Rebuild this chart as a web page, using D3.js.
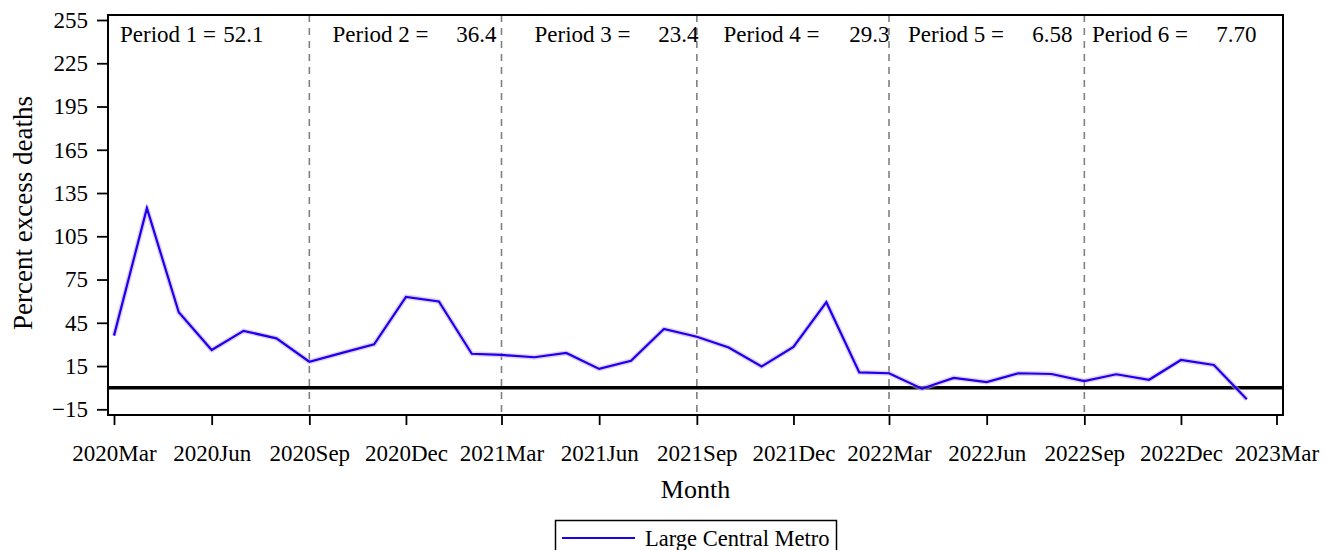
<!DOCTYPE html>
<html>
<head>
<meta charset="utf-8">
<script src="https://cdn.jsdelivr.net/npm/d3@7"></script>
<style>
  html, body { margin: 0; padding: 0; background: #fff; }
  svg { display: block; }
  svg text { font-family: "Liberation Serif", "Times New Roman", serif; fill: #000; }
</style>
</head>
<body>
<svg id="chart" width="1326" height="550"></svg>
<script>
// Monthly percent excess deaths, Large Central Metro counties
const months = [
  "2020-03","2020-04","2020-05","2020-06","2020-07","2020-08",
  "2020-09","2020-10","2020-11","2020-12","2021-01","2021-02",
  "2021-03","2021-04","2021-05","2021-06","2021-07","2021-08",
  "2021-09","2021-10","2021-11","2021-12","2022-01","2022-02",
  "2022-03","2022-04","2022-05","2022-06","2022-07","2022-08",
  "2022-09","2022-10","2022-11","2022-12","2023-01","2023-02"
];
const excess = [
  36.1, 124.5, 52.3, 26.1, 39.4, 34.2,
  18.0, 24.0, 30.1, 63.0, 59.8, 23.5,
  22.7, 21.1, 24.1, 13.0, 18.7, 40.7,
  35.3, 27.9, 14.7, 28.3, 59.3, 10.6,
  10.0, -0.7, 6.8, 3.9, 10.0, 9.5,
  4.6, 9.3, 5.5, 19.2, 15.7, -8.1
];
const seriesName = "Large Central Metro";

// Six-month periods and their mean percent excess deaths
const periodNames = ["Period 1", "Period 2", "Period 3", "Period 4", "Period 5", "Period 6"];
const periodMeans = [52.1, 36.4, 23.4, 29.3, 6.58, 7.70];
const periodBreaks = ["2020-09", "2021-03", "2021-09", "2022-03", "2022-09"];

// Axis ticks
const xTicks = [
  "2020-03","2020-06","2020-09","2020-12","2021-03","2021-06","2021-09",
  "2021-12","2022-03","2022-06","2022-09","2022-12","2023-03"
];
const yTicks = [-15, 15, 45, 75, 105, 135, 165, 195, 225, 255];

// ---- layout ----
const serif = "'Liberation Serif', 'Times New Roman', serif";
const frame = { left: 108, right: 1283, top: 15, bottom: 415 };
const labelLayout = {
  prefixX: [120, 332.5, 534.5, 723.5, 908, 1092],
  valueEndX: [263.5, 496.5, 698.5, 889.5, 1072.5, 1256.5],
  baseline: 41.5
};

const parse = d3.utcParse("%Y-%m");
const svg = d3.select("#chart");

const x = d3.scaleUtc()
  .domain([parse(xTicks[0]), parse(xTicks[xTicks.length - 1])])
  .range([114, 1276.5]);
const y = d3.scaleLinear()
  .domain([-15, 255])
  .range([409.3, 20]);

// Period separators
svg.append("g")
  .selectAll("line")
  .data(periodBreaks)
  .join("line")
  .attr("x1", d => x(parse(d)))
  .attr("x2", d => x(parse(d)))
  .attr("y1", frame.top)
  .attr("y2", frame.bottom)
  .attr("stroke", "#808080")
  .attr("stroke-width", 1.6)
  .attr("stroke-dasharray", "7,6");

// Zero reference line
svg.append("line")
  .attr("x1", frame.left).attr("x2", frame.right)
  .attr("y1", y(0)).attr("y2", y(0))
  .attr("stroke", "#000")
  .attr("stroke-width", 3.5);

// Series line with its faint band
const line = d3.line()
  .x((d, i) => x(parse(months[i])))
  .y(d => y(d));

svg.append("path")
  .datum(excess)
  .attr("d", line)
  .attr("fill", "none")
  .attr("stroke", "#cfa6e2")
  .attr("stroke-opacity", 0.55)
  .attr("stroke-width", 5)
  .attr("stroke-linejoin", "round");

svg.append("path")
  .datum(excess)
  .attr("d", line)
  .attr("fill", "none")
  .attr("stroke", "#1a00f0")
  .attr("stroke-width", 2.2)
  .attr("stroke-linejoin", "miter");

// Plot frame
svg.append("rect")
  .attr("x", frame.left)
  .attr("y", frame.top)
  .attr("width", frame.right - frame.left)
  .attr("height", frame.bottom - frame.top)
  .attr("fill", "none")
  .attr("stroke", "#000")
  .attr("stroke-width", 2);

// Y axis
const yAxis = svg.append("g")
  .attr("transform", `translate(${frame.left},0)`)
  .call(d3.axisLeft(y).tickValues(yTicks).tickSize(11).tickPadding(9).tickFormat(d3.format("d")))
  .attr("font-family", serif)
  .attr("font-size", 23);
yAxis.select(".domain").remove();
yAxis.selectAll("line").attr("stroke", "#000").attr("stroke-width", 1.8);
yAxis.selectAll("text").attr("fill", "#000");

// X axis
const xAxis = svg.append("g")
  .attr("transform", `translate(0,${frame.bottom})`)
  .call(d3.axisBottom(x).tickValues(xTicks.map(parse)).tickSize(10).tickFormat(d3.utcFormat("%Y%b")))
  .attr("font-family", serif)
  .attr("font-size", 23);
xAxis.select(".domain").remove();
xAxis.selectAll("line").attr("stroke", "#000").attr("stroke-width", 1.8);
xAxis.selectAll("text")
  .attr("fill", "#000")
  .attr("y", 46)
  .attr("dy", 0);

// Axis titles
svg.append("text")
  .attr("x", (frame.left + frame.right) / 2)
  .attr("y", 498)
  .attr("text-anchor", "middle")
  .attr("font-family", serif)
  .attr("font-size", 26)
  .text("Month");

svg.append("text")
  .attr("transform", `translate(32,${(frame.top + frame.bottom) / 2 - 2}) rotate(-90)`)
  .attr("text-anchor", "middle")
  .attr("font-family", serif)
  .attr("font-size", 27)
  .text("Percent excess deaths");

// Period mean labels
const fmt = d3.format(".3r");
const labels = svg.append("g")
  .attr("font-family", serif)
  .attr("font-size", 23);
labels.selectAll("text.prefix")
  .data(periodNames)
  .join("text")
  .attr("class", "prefix")
  .attr("x", (d, i) => labelLayout.prefixX[i])
  .attr("y", labelLayout.baseline)
  .text(d => `${d} =`);
labels.selectAll("text.value")
  .data(periodMeans)
  .join("text")
  .attr("class", "value")
  .attr("x", (d, i) => labelLayout.valueEndX[i])
  .attr("y", labelLayout.baseline)
  .attr("text-anchor", "end")
  .text(d => fmt(d));

// Legend
const legend = svg.append("g");
legend.append("rect")
  .attr("x", 555.5).attr("y", 520.5)
  .attr("width", 281).attr("height", 40)
  .attr("fill", "none")
  .attr("stroke", "#000")
  .attr("stroke-width", 1.5);
legend.append("line")
  .attr("x1", 562).attr("x2", 635)
  .attr("y1", 538).attr("y2", 538)
  .attr("stroke", "#1a00f0")
  .attr("stroke-width", 2);
legend.append("text")
  .attr("x", 645).attr("y", 545.5)
  .attr("font-family", serif)
  .attr("font-size", 22.5)
  .text(seriesName);
</script>
</body>
</html>
